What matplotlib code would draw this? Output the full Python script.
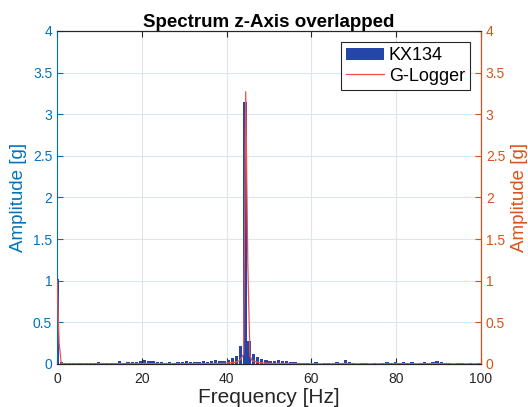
import numpy as np
import matplotlib
matplotlib.use('Agg')
import matplotlib.pyplot as plt
from matplotlib.ticker import FuncFormatter

plt.rcParams['font.family'] = ['Liberation Sans', 'DejaVu Sans']

# KX134 spectrum, bins of ~0.985 Hz
bin_step = 0.985
kx_amp = [
    1.02, 0.02, 0.015, 0.01, 0.01, 0.015, 0.01, 0.015, 0.015, 0.015,
    0.02, 0.015, 0.015, 0.01, 0.01, 0.03, 0.01, 0.02, 0.025, 0.02,
    0.03, 0.05, 0.035, 0.03, 0.025, 0.02, 0.015, 0.02, 0.01, 0.02,
    0.025, 0.03, 0.025, 0.02, 0.025, 0.035, 0.02, 0.03, 0.045, 0.04,
    0.04, 0.05, 0.07, 0.1, 0.22, 3.15, 0.28, 0.12, 0.08, 0.06,
    0.05, 0.04, 0.03, 0.05, 0.035, 0.03, 0.025, 0.02, 0.015, 0.01,
    0.01, 0.005, 0.02, 0.005, 0.01, 0.015, 0.005, 0.02, 0.01, 0.05,
    0.02, 0.01, 0.005, 0.01, 0.015, 0.005, 0.01, 0.005, 0.01, 0.02,
    0.015, 0.02, 0.015, 0.025, 0.01, 0.02, 0.005, 0.01, 0.02, 0.015,
    0.02, 0.04, 0.02, 0.015, 0.01, 0.005, 0.01, 0.015, 0.005, 0.01,
    0.005, 0.01,
]
kx_freq = np.arange(len(kx_amp)) * bin_step

# G-Logger spectrum
g_freq = [0, 0.5] + list(range(1, 44)) + [43.5, 44, 44.5, 45, 45.5] + list(range(46, 101))
g_amp = [
    1.0, 0.25,
    0.004, 0.003, 0.002, 0.002, 0.002, 0.003, 0.002, 0.002, 0.003, 0.004,
    0.003, 0.002, 0.002, 0.004, 0.005, 0.003, 0.004, 0.004, 0.004, 0.005,
    0.006, 0.004, 0.004, 0.003, 0.003, 0.002, 0.002, 0.002, 0.003, 0.004,
    0.004, 0.004, 0.003, 0.004, 0.005, 0.004, 0.005, 0.006, 0.008, 0.01,
    0.015, 0.02, 0.04,
    0.07, 0.12, 3.27, 1.2, 0.1,
    0.04, 0.025, 0.015, 0.01, 0.008,
    0.007, 0.006, 0.007, 0.006, 0.005, 0.004, 0.003, 0.003, 0.002, 0.002,
    0.002, 0.002, 0.002, 0.002, 0.003, 0.003, 0.004, 0.006, 0.004, 0.002,
    0.002, 0.002, 0.002, 0.002, 0.002, 0.003, 0.002, 0.002, 0.002, 0.003,
    0.004, 0.003, 0.002, 0.002, 0.002, 0.003, 0.003, 0.004, 0.005, 0.004,
    0.003, 0.002, 0.002, 0.002, 0.002, 0.002, 0.002, 0.002, 0.002, 0.002,
]

x_ticks = [0, 20, 40, 60, 80, 100]
y_ticks = [0, 0.5, 1, 1.5, 2, 2.5, 3, 3.5, 4]

blue_ax = '#0072BD'
orange_ax = '#D95319'
bar_col = '#2346A8'
line_col = '#F05050'
dark = '#262626'

fig = plt.figure(figsize=(5.28, 4.07), dpi=100)
ax = fig.add_axes([0.108, 0.1057, 0.803, 0.8183])
ax2 = ax.twinx()

bars = ax.bar(kx_freq, kx_amp, width=0.8 * bin_step, color=bar_col, label='KX134', zorder=2)
line, = ax2.plot(g_freq, g_amp, color=line_col, lw=0.9, label='G-Logger')

fmt = FuncFormatter(lambda v, p: '%g' % v)
for a in (ax, ax2):
    a.set_xlim(0, 100)
    a.set_ylim(0, 4)
    a.set_yticks(y_ticks)
    a.yaxis.set_major_formatter(fmt)
ax.set_xticks(x_ticks)

ax.grid(True, color='#DCE6EE', lw=0.8, zorder=0)
ax.set_axisbelow(True)

ax.tick_params(axis='x', direction='in', colors=dark, labelsize=10, top=True, length=4, pad=6)
ax.tick_params(axis='y', direction='in', colors=blue_ax, labelsize=10, length=4)
ax2.tick_params(axis='y', direction='in', colors=orange_ax, labelsize=10, length=4)

ax.spines['left'].set_color(blue_ax)
ax.spines['bottom'].set_color(dark)
ax.spines['top'].set_color(dark)
ax2.spines['right'].set_color(orange_ax)
ax2.spines['left'].set_visible(False)
ax2.spines['top'].set_color(dark)
ax2.spines['bottom'].set_color(dark)

ax.set_ylabel('Amplitude [g]', color=blue_ax, fontsize=13.5, labelpad=4)
ax2.set_ylabel('Amplitude [g]', color=orange_ax, fontsize=13.5, labelpad=4)
ax.set_xlabel('Frequency [Hz]', color=dark, fontsize=15, labelpad=1)
ax.set_title('Spectrum z-Axis overlapped', fontsize=13.5, fontweight='bold', pad=3)

leg = ax2.legend([bars, line], ['KX134', 'G-Logger'], loc='upper right',
                 fontsize=13, fancybox=False, edgecolor=dark, framealpha=1,
                 handlelength=2.1, borderpad=0.3, labelspacing=0.2,
                 handletextpad=0.25, borderaxespad=0.6)
leg.get_frame().set_linewidth(0.8)

fig.savefig('out.png', dpi=100)
